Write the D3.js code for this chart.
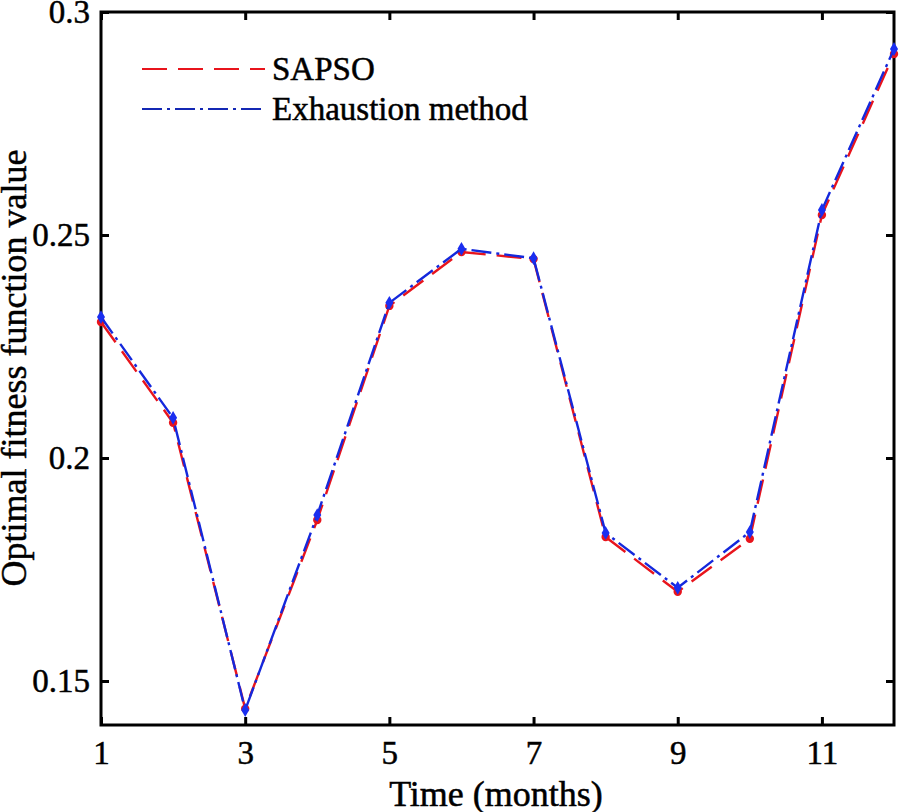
<!DOCTYPE html>
<html>
<head>
<meta charset="utf-8">
<script src="https://cdn.jsdelivr.net/npm/d3@7"></script>
<style>
body{margin:0;background:#fff;}
svg{font-family:"Liberation Serif","Times New Roman",serif;}
svg text{stroke:#000;stroke-width:0.5px;}
</style>
</head>
<body>
<svg id="chart" width="913" height="812"></svg>
<script>
var months = [1,2,3,4,5,6,7,8,9,10,11,12]
var sapso = [0.2305,0.2079,0.1438,0.1861,0.2341,0.2462,0.2446,0.1823,0.1700,0.1819,0.2545,0.2906]
var exhaustion = [0.2316,0.2090,0.1435,0.1872,0.2348,0.2469,0.2448,0.1832,0.1709,0.1834,0.2556,0.2917]
var xTicks = [1,3,5,7,9,11]
var yTicks = [0.15,0.2,0.25,0.3]
var seriesNames = ["SAPSO","Exhaustion method"]

var svg = d3.select("#chart")
var pLeft = 101, pRight = 894, pTop = 12, pBottom = 725

var x = d3.scaleLinear().domain([1,12]).range([pLeft,pRight])
var y = d3.scaleLinear().domain([0.15,0.3]).range([681,pTop])
var ymin = y.invert(pBottom)
y.domain([ymin,0.3]).range([pBottom,pTop])

// axes, ticks pointing inward
var tl = 8
var xb = svg.append("g").attr("transform","translate(0,"+pBottom+")")
    .call(d3.axisBottom(x).tickValues(xTicks).tickSize(-tl).tickPadding(16).tickFormat(d3.format("d")))
var xt = svg.append("g").attr("transform","translate(0,"+pTop+")")
    .call(d3.axisTop(x).tickValues(xTicks).tickSize(-tl).tickFormat(""))
var yl = svg.append("g").attr("transform","translate("+pLeft+",0)")
    .call(d3.axisLeft(y).tickValues(yTicks).tickSize(-tl).tickPadding(11).tickFormat(function(d){return String(+d.toFixed(2))}))
var yr = svg.append("g").attr("transform","translate("+pRight+",0)")
    .call(d3.axisRight(y).tickValues(yTicks).tickSize(-tl).tickFormat(""))
;[xb,xt,yl,yr].forEach(function(g){
  g.select(".domain").remove()
  g.selectAll(".tick line").attr("stroke","#000").attr("stroke-width",3)
  g.selectAll(".tick text").attr("font-size",33).attr("fill","#000").attr("font-family","Liberation Serif, serif")
})
xb.selectAll(".tick text").attr("dy","0.71em")

svg.append("rect").attr("x",pLeft).attr("y",pTop).attr("width",pRight-pLeft).attr("height",pBottom-pTop)
  .attr("fill","none").attr("stroke","#000").attr("stroke-width",3)

var line = d3.line().x(function(d,i){return x(months[i])}).y(function(d){return y(d)})

// SAPSO red dashed
svg.append("path").datum(sapso).attr("d",line).attr("fill","none")
  .attr("stroke","#e8141c").attr("stroke-width",2.4).attr("stroke-dasharray","25,11")
svg.selectAll(".pt-red").data(sapso).enter().append("circle")
  .attr("cx",function(d,i){return x(months[i])}).attr("cy",function(d){return y(d)})
  .attr("r",4.2).attr("fill","#e8141c")

// Exhaustion blue dash-dot
svg.append("path").datum(exhaustion).attr("d",line).attr("fill","none")
  .attr("stroke","#1428dc").attr("stroke-width",2.4).attr("stroke-dasharray","20,5,3,5")
svg.selectAll(".pt-blue").data(exhaustion).enter().append("path")
  .attr("transform",function(d,i){return "translate("+x(months[i])+","+y(d)+")"})
  .attr("d",d3.symbol().type(d3.symbolDiamond).size(55)).attr("fill","#1a2ef0")

// legend
var leg = [{name:seriesNames[0],color:"#e8141c",dash:"25,11",yy:69},
           {name:seriesNames[1],color:"#1428b4",dash:"20,5,3,5",yy:109}]
leg.forEach(function(l){
  svg.append("line").attr("x1",142).attr("x2",265).attr("y1",l.yy).attr("y2",l.yy)
    .attr("stroke",l.color).attr("stroke-width",2).attr("stroke-dasharray",l.dash)
  svg.append("text").attr("x",272).attr("y",l.yy+11).attr("font-size",33).text(l.name)
})

// axis titles
svg.append("text").attr("x",496).attr("y",806).attr("text-anchor","middle")
  .attr("font-size",36).text("Time (months)")
svg.append("text").attr("transform","translate(26,368) rotate(-90)")
  .attr("text-anchor","middle").attr("font-size",36).text("Optimal fitness function value")
</script>
</body>
</html>
